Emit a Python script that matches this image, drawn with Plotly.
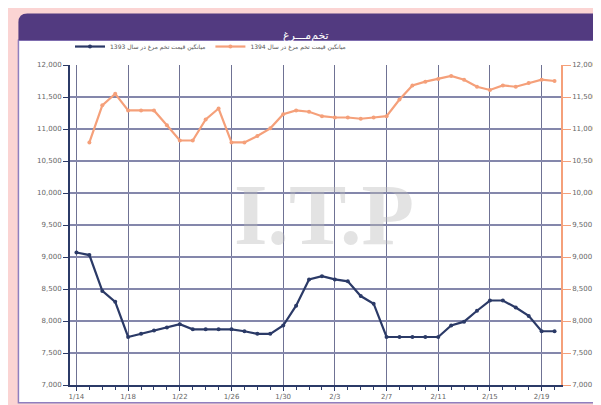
import plotly.graph_objects as go

# ---- data ----
dates = ["1/14", "1/15", "1/16", "1/17", "1/18", "1/19", "1/20", "1/21", "1/22", "1/23",
         "1/24", "1/25", "1/26", "1/27", "1/28", "1/29", "1/30", "1/31", "2/1", "2/2",
         "2/3", "2/4", "2/5", "2/6", "2/7", "2/8", "2/9", "2/10", "2/11", "2/12",
         "2/13", "2/14", "2/15", "2/16", "2/17", "2/18", "2/19", "2/20"]

blue_values = [9070, 9030, 8470, 8300, 7750, 7800, 7850, 7900, 7950, 7870,
               7870, 7870, 7870, 7840, 7800, 7800, 7930, 8240, 8650, 8700,
               8650, 8620, 8390, 8270, 7750, 7750, 7750, 7750, 7750, 7930,
               7990, 8160, 8320, 8320, 8210, 8080, 7840, 7840]

orange_values = [None, 10790, 11370, 11550, 11290, 11290, 11290, 11060, 10820, 10820,
                 11150, 11320, 10790, 10790, 10890, 11010, 11230, 11290, 11270, 11200,
                 11180, 11180, 11160, 11180, 11200, 11460, 11680, 11740, 11780, 11830,
                 11770, 11660, 11610, 11680, 11660, 11720, 11770, 11750]

blue_name = "میانگین قیمت تخم مرغ در سال 1393"
orange_name = "میانگین قیمت تخم مرغ در سال 1394"
title_text = "تخم‌مـــرغ"

y_ticks = list(range(7000, 12001, 500))
x_idx = list(range(len(dates)))
major_idx = x_idx[::4]
major_labels = dates[::4]

BLUE = "#2b3a67"
ORANGE = "#f5a07a"
PURPLE = "#523a80"

fig = go.Figure()
fig.add_trace(go.Scatter(
    x=x_idx, y=blue_values, name=blue_name, mode="lines+markers",
    line=dict(color=BLUE, width=2.2), marker=dict(size=4, color=BLUE),
    hovertext=dates, yaxis="y"))
fig.add_trace(go.Scatter(
    x=x_idx, y=orange_values, name=orange_name, mode="lines+markers",
    line=dict(color=ORANGE, width=2.2), marker=dict(size=4, color=ORANGE),
    hovertext=dates, yaxis="y2"))

# pixel -> paper helpers (plot area 62..557 x, 57..380 y)
L, R, T, B = 62, 557, 57, 380
def px(x):
    return (x - L) / (R - L)
def py(y):
    return (B - y) / (B - T)

x0, x1 = px(10), px(603)
yp0, yp1 = py(398), py(32)
yh1 = py(5)
rx, ry = 9 / (R - L), 9 / (B - T)
header_path = (f"M {x0},{yp1} L {x0},{yh1 - ry} Q {x0},{yh1} {x0 + rx},{yh1} "
               f"L {x1},{yh1} L {x1},{yp1} Z")

shapes = [
    dict(type="rect", xref="paper", yref="paper", x0=x0, x1=x1, y0=yp0, y1=yp1,
         fillcolor="white", line=dict(color="#8f7fbf", width=1.5), layer="below"),
    dict(type="path", xref="paper", yref="paper", path=header_path,
         fillcolor=PURPLE, line=dict(width=0), layer="below"),
]

tick_font = dict(family="DejaVu Sans", size=7, color="#666666")

fig.update_layout(
    width=601, height=405,
    margin=dict(l=L, r=601 - R, t=T, b=405 - B),
    paper_bgcolor="#fbd4d3",
    plot_bgcolor="rgba(0,0,0,0)",
    showlegend=True,
    legend=dict(orientation="h", x=0.0, y=py(53), xanchor="left", yanchor="bottom",
                font=dict(family="DejaVu Sans", size=6, color="#555555"),
                bgcolor="rgba(0,0,0,0)", itemwidth=30, tracegroupgap=0),
    shapes=shapes,
    xaxis=dict(
        range=[-0.5, len(dates) - 0.5],
        tickmode="array", tickvals=major_idx, ticktext=major_labels,
        showgrid=True, gridcolor="#6f7294", gridwidth=1,
        ticks="outside", ticklen=4, tickcolor=BLUE,
        minor=dict(tickmode="linear", tick0=0, dtick=1, ticks="outside",
                   ticklen=3, tickcolor=BLUE, showgrid=False),
        showline=True, linecolor=BLUE, linewidth=2,
        tickfont=tick_font, zeroline=False, fixedrange=True),
    yaxis=dict(
        range=[7000, 12000], tickmode="array", tickvals=y_ticks,
        tickformat=",", showgrid=True, gridcolor="#8487ab", gridwidth=1.8,
        ticks="outside", ticklen=5, tickcolor=BLUE,
        showline=True, linecolor=BLUE, linewidth=2,
        tickfont=tick_font, zeroline=False),
    yaxis2=dict(
        range=[7000, 12000], tickmode="array", tickvals=y_ticks,
        tickformat=",", overlaying="y", side="right", showgrid=False,
        ticks="outside", ticklen=8, tickcolor=ORANGE,
        showline=True, linecolor=ORANGE, linewidth=1.5,
        tickfont=tick_font, zeroline=False),
    annotations=[
        dict(text=title_text, xref="paper", yref="paper", x=px(300), y=py(19),
             showarrow=False, font=dict(family="DejaVu Sans", size=11, color="white")),
        dict(text="<b>I.T.P</b>", xref="paper", yref="paper", x=px(318), y=py(208),
             showarrow=False,
             font=dict(family="Liberation Serif", size=86, color="rgba(185,185,185,0.4)")),
    ],
)

fig.write_html("out.html")
